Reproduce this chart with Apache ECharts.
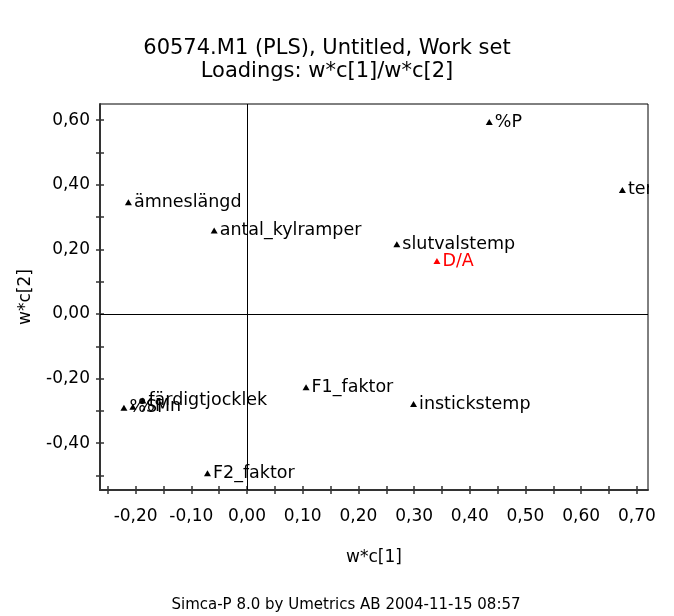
<!DOCTYPE html>
<html><head><meta charset="utf-8">
<script src="https://cdn.jsdelivr.net/npm/echarts@6/dist/echarts.min.js"></script>
<style>html,body{margin:0;padding:0;background:#fff}#c{width:674px;height:616px}</style>
</head><body><div id="c"></div>
<script>
// ---- data ----
const varNames = ['%P', 'temp', 'ämneslängd', 'antal_kylramper', 'slutvalstemp', 'D/A',
  'F1_faktor', 'instickstemp', '%Si', '%Mn', 'färdigtjocklek', 'F2_faktor'];
const wc1 = [0.435, 0.674, -0.213, -0.059, 0.269, 0.341, 0.106, 0.299, -0.221, -0.205, -0.187, -0.071];
const wc2 = [0.594, 0.384, 0.346, 0.258, 0.216, 0.164, -0.227, -0.279, -0.290, -0.287, -0.268, -0.493];
const responseVars = ['D/A'];
const xTickValues = [-0.25, -0.2, -0.15, -0.1, -0.05, 0, 0.05, 0.1, 0.15, 0.2, 0.25, 0.3, 0.35, 0.4, 0.45, 0.5, 0.55, 0.6, 0.65, 0.7];
const xLabelValues = [-0.2, -0.1, 0, 0.1, 0.2, 0.3, 0.4, 0.5, 0.6, 0.7];
const yTickValues = [-0.5, -0.4, -0.3, -0.2, -0.1, 0, 0.1, 0.2, 0.3, 0.4, 0.5, 0.6];
const yLabelValues = [-0.4, -0.2, 0, 0.2, 0.4, 0.6];
const titleText = '60574.M1 (PLS), Untitled, Work set\nLoadings: w*c[1]/w*c[2]';
const footerText = 'Simca-P 8.0 by Umetrics AB 2004-11-15 08:57';

const FONT = 'DejaVu Sans';
const fmt = v => (Math.abs(v) < 1e-9 ? 0 : v).toFixed(2).replace('.', ',');

const points = varNames.map((n, i) => {
  const isResp = responseVars.includes(n);
  return {
    name: n,
    value: [wc1[i], wc2[i]],
    itemStyle: { color: isResp ? '#ff0000' : '#000', opacity: 1 },
    label: { color: isResp ? '#ff0000' : '#000', opacity: 1 }
  };
});

const chart = echarts.init(document.getElementById('c'), null, { renderer: 'canvas' });
const xMin = -0.264, xMax = 0.72, yMin = -0.545, yMax = 0.65;
const baseAxisText = { fontFamily: FONT, color: '#000' };

chart.setOption({
  animation: false,
  backgroundColor: '#fff',
  textStyle: { fontFamily: FONT },
  title: [
    { text: titleText, left: 322, top: 32, textAlign: 'center',
      textStyle: { fontFamily: FONT, fontSize: 21, fontWeight: 'normal', color: '#000', lineHeight: 23 } },
    { text: footerText, left: 341, top: 591, textAlign: 'center',
      textStyle: { fontFamily: FONT, fontSize: 15, fontWeight: 'normal', color: '#000', lineHeight: 18 } }
  ],
  grid: { left: 100, right: 26, top: 104, bottom: 126, show: true, borderColor: '#000', borderWidth: 1, backgroundColor: 'transparent' },
  xAxis: [
    { type: 'value', min: xMin, max: xMax, position: 'bottom',
      name: 'w*c[1]', nameLocation: 'middle', nameGap: 59,
      nameTextStyle: Object.assign({ fontSize: 17 }, baseAxisText),
      axisLine: { show: true, onZero: false, lineStyle: { color: '#333', width: 2 } },
      axisTick: { show: true, inside: false, length: 4, lineStyle: { color: '#333', width: 1.5 }, customValues: xTickValues },
      axisLabel: Object.assign({ fontSize: 17, margin: 18, formatter: fmt, customValues: xLabelValues }, baseAxisText),
      splitLine: { show: false } },
    { type: 'value', min: xMin, max: xMax, position: 'bottom',
      axisLine: { show: false, onZero: false },
      axisTick: { show: true, inside: true, length: 4, lineStyle: { color: '#333', width: 1.5 }, customValues: xTickValues },
      axisLabel: { show: false }, splitLine: { show: false } }
  ],
  yAxis: [
    { type: 'value', min: yMin, max: yMax, position: 'left',
      name: 'w*c[2]', nameLocation: 'middle', nameGap: 66,
      nameTextStyle: Object.assign({ fontSize: 17 }, baseAxisText),
      axisLine: { show: true, onZero: false, lineStyle: { color: '#333', width: 2 } },
      axisTick: { show: true, inside: false, length: 4, lineStyle: { color: '#333', width: 1.5 }, customValues: yTickValues },
      axisLabel: Object.assign({ fontSize: 17, margin: 10, formatter: fmt, customValues: yLabelValues }, baseAxisText),
      splitLine: { show: false } },
    { type: 'value', min: yMin, max: yMax, position: 'left',
      axisLine: { show: false, onZero: false },
      axisTick: { show: true, inside: true, length: 4, lineStyle: { color: '#333', width: 1.5 }, customValues: yTickValues },
      axisLabel: { show: false }, splitLine: { show: false } }
  ],
  series: [{
    type: 'scatter',
    xAxisIndex: 0, yAxisIndex: 0,
    symbol: 'triangle',
    symbolSize: [7, 6],
    data: points,
    label: { show: true, position: 'right', distance: 2, formatter: '{b}', fontFamily: FONT, fontSize: 17.5, color: '#000', opacity: 1, textBorderWidth: 0 },
    labelLayout: { hideOverlap: false },
    emphasis: { disabled: true },
    markLine: {
      silent: true, symbol: 'none', animation: false,
      label: { show: false },
      lineStyle: { color: '#000', width: 1, type: 'solid' },
      data: [{ xAxis: 0 }, { yAxis: 0 }]
    }
  }],
  graphic: [
    { type: 'rect', z: 100, shape: { x: 649, y: 95, width: 30, height: 400 }, style: { fill: '#fff' }, silent: true }
  ]
});
</script>
</body></html>
